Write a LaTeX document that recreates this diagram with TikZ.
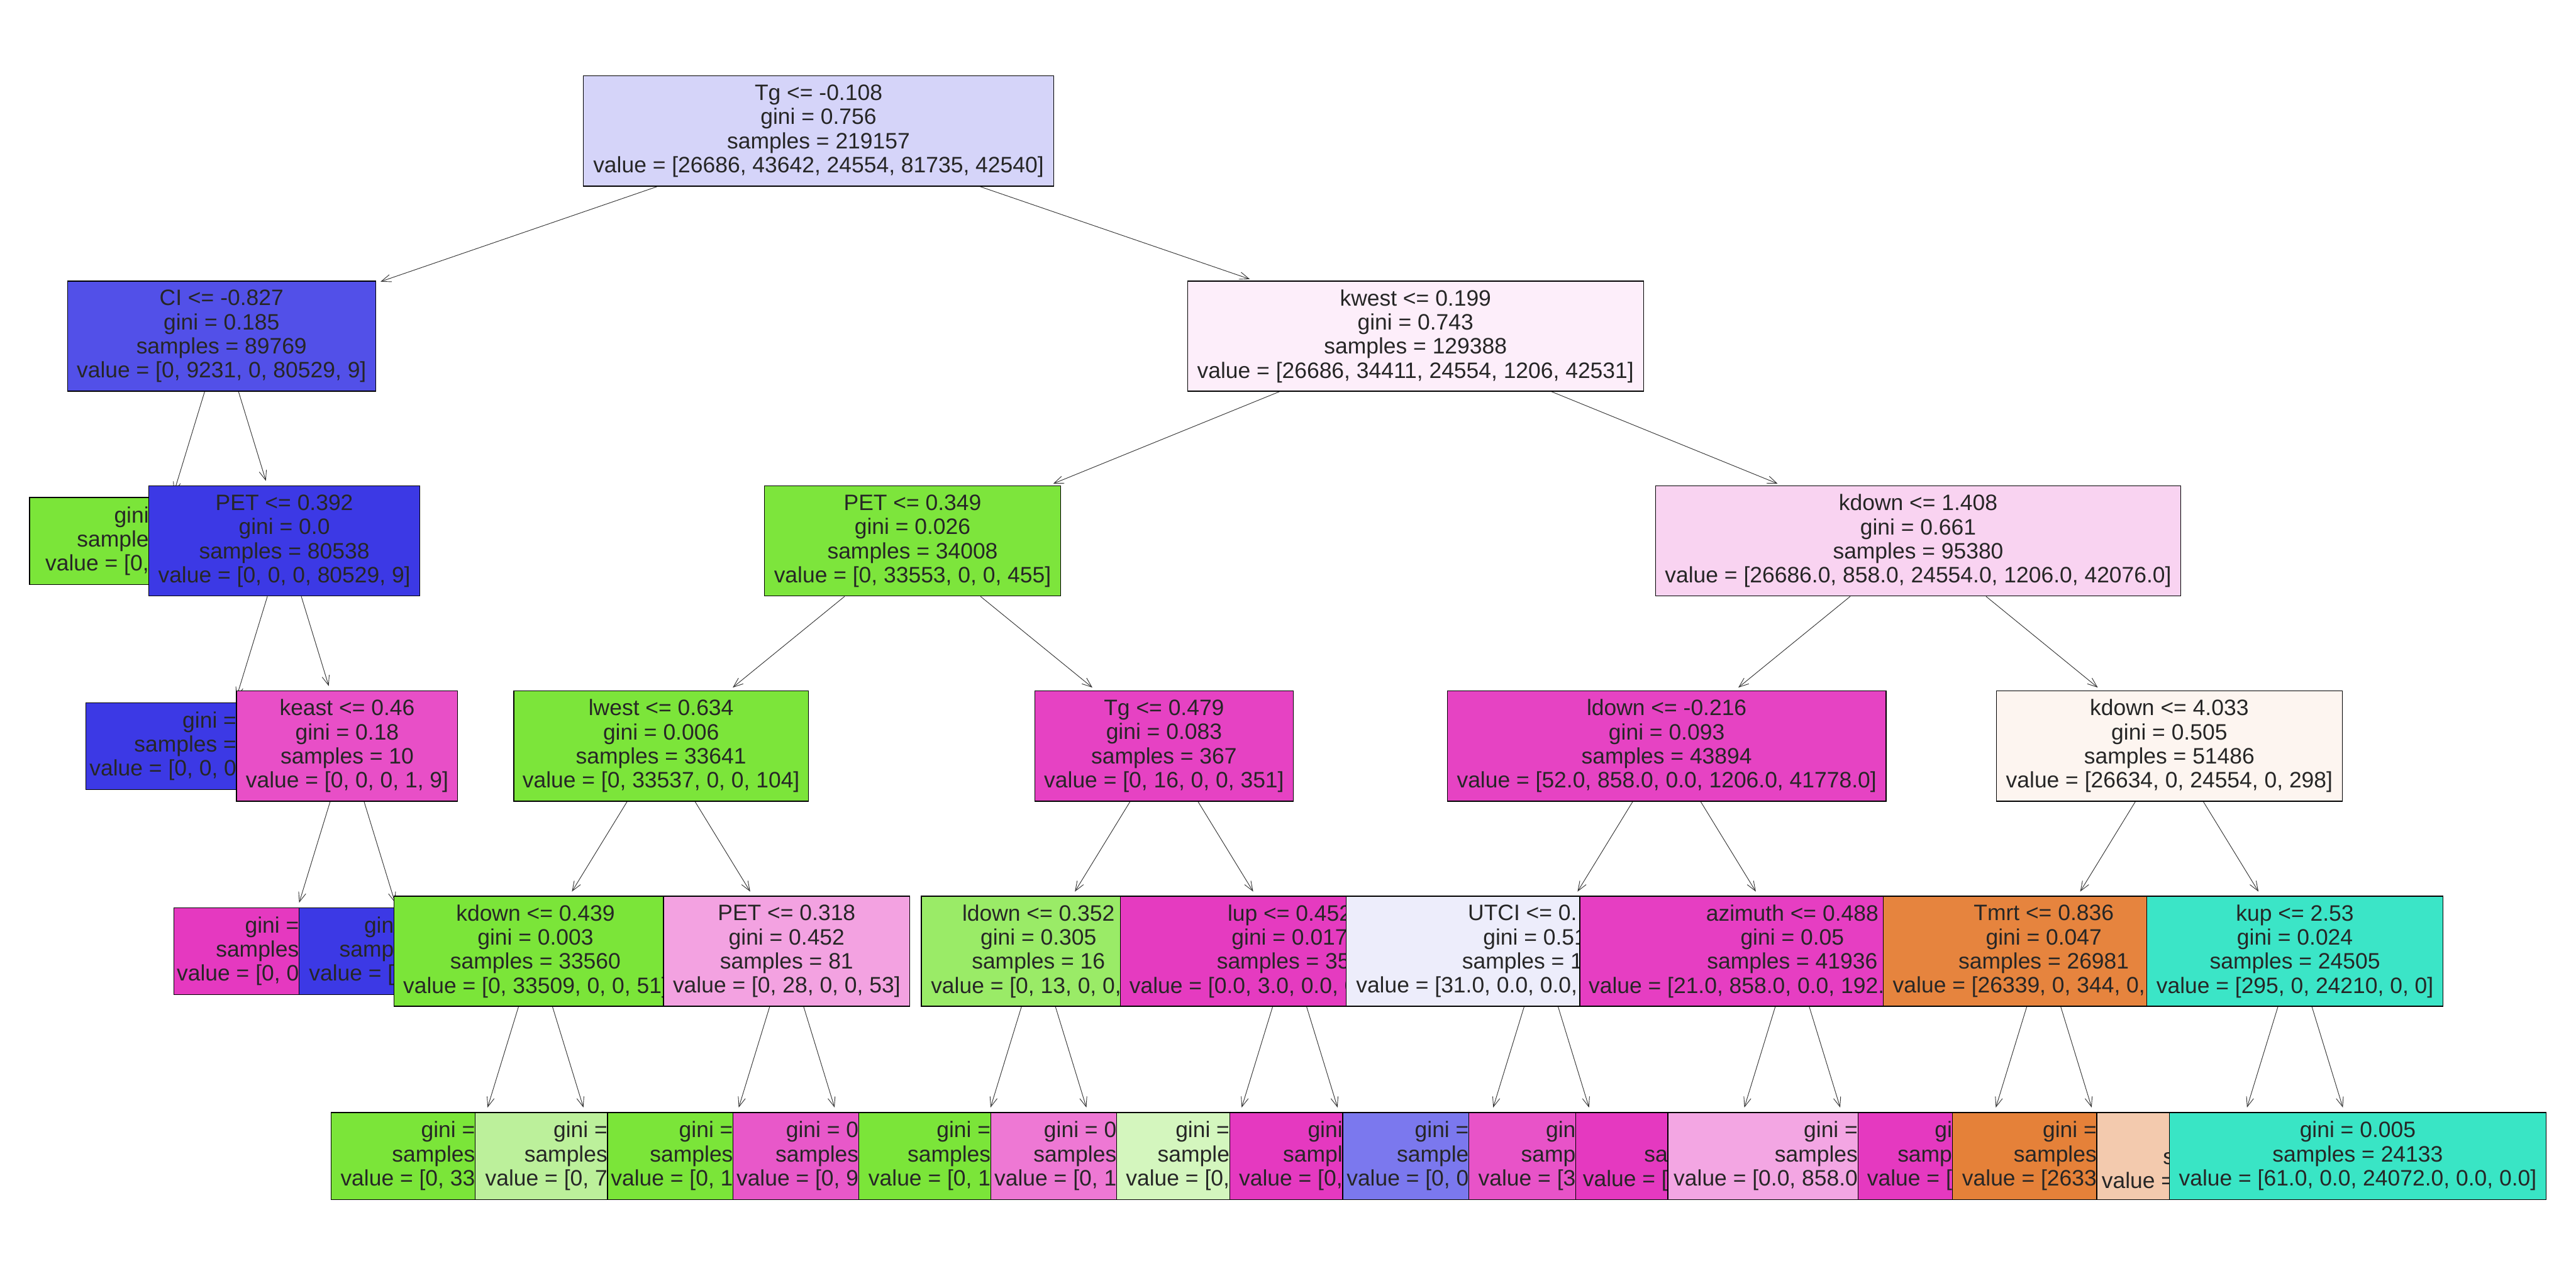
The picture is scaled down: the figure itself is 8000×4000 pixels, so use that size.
\documentclass[tikz,border=0pt]{standalone}
\usepackage{fontspec}
\setmainfont{Liberation Sans}
\usepackage{xcolor}
\usepackage{tikz}
\usetikzlibrary{arrows.meta}
% class fills
\definecolor{dtroot}{RGB}{213,212,249}
\definecolor{dtci}{RGB}{82,80,232}
\definecolor{dtkwest}{RGB}{253,238,250}
\definecolor{dtgreen}{RGB}{123,229,57}
\definecolor{dtblue}{RGB}{60,57,229}
\definecolor{dtmag}{RGB}{229,57,192}
\definecolor{dtorange}{RGB}{229,129,57}
\definecolor{dtteal}{RGB}{57,229,197}
\definecolor{dtpetb}{RGB}{125,229,60}
\definecolor{dtkdowna}{RGB}{249,211,241}
\definecolor{dtkeast}{RGB}{232,79,199}
\definecolor{dtlwest}{RGB}{124,229,58}
\definecolor{dttgb}{RGB}{230,66,195}
\definecolor{dtldowna}{RGB}{230,67,195}
\definecolor{dtkdownb}{RGB}{253,245,240}
\definecolor{dtpetc}{RGB}{243,162,225}
\definecolor{dtldownb}{RGB}{154,235,103}
\definecolor{dtlup}{RGB}{229,59,192}
\definecolor{dtutci}{RGB}{237,237,251}
\definecolor{dtazi}{RGB}{230,62,194}
\definecolor{dttmrt}{RGB}{230,132,62}
\definecolor{dtkup}{RGB}{59,229,199}
\definecolor{dtlgreen}{RGB}{188,240,155}
\definecolor{dtpinka}{RGB}{232,88,201}
\definecolor{dtpinkb}{RGB}{238,120,212}
\definecolor{dtpale}{RGB}{212,246,190}
\definecolor{dtviolet}{RGB}{123,120,238}
\definecolor{dtpinkc}{RGB}{232,83,200}
\definecolor{dtpinkd}{RGB}{243,166,227}
\definecolor{dtpeach}{RGB}{243,202,174}
\pgfdeclarelayer{bg}
\pgfdeclarelayer{d5}
\pgfdeclarelayer{d4}
\pgfdeclarelayer{d3}
\pgfdeclarelayer{d2}
\pgfdeclarelayer{d1}
\pgfsetlayers{bg,d5,d4,d3,d2,d1,main}
\tikzset{
  dtbox/.style={
    draw=black, line width=0.25mm, text=black!85, align=center,
    inner sep=1mm, font=\fontsize{19.7}{21.3}\selectfont
  },
  splitbox/.style={dtbox, minimum height=34.2mm},
  leafbox/.style={dtbox, minimum height=27mm},
  cuttext/.style={
    anchor=east, align=right, inner sep=0pt, text=black!85,
    font=\fontsize{19.7}{21.3}\selectfont
  },
  arr/.style={-{Straight Barb[length=3mm,width=2.3mm]}, draw=black!80,
    line width=0.18mm, shorten >=1.5mm}
}

\begin{document}
\begin{tikzpicture}[x=0.1mm, y=-0.1mm]
  \useasboundingbox (0,0) rectangle (8000,4000);
  \begin{pgfonlayer}{bg}
    \fill[white] (0,0) rectangle (8000,4000);
  \end{pgfonlayer}
  % depth 0
  \node[splitbox, fill=dtroot, minimum width=146.1mm] (root) at (2542,407)
    {Tg <= -0.108\\gini = 0.756\\samples = 219157\\value = [26686, 43642, 24554, 81735, 42540]};
  % depth 1
  \begin{pgfonlayer}{d1}
  \node[splitbox, fill=dtci, minimum width=95.7mm] (ci) at (688,1044)
    {CI <= -0.827\\gini = 0.185\\samples = 89769\\value = [0, 9231, 0, 80529, 9]};
  \draw[arr] (root) -- (ci);
  \node[splitbox, fill=dtkwest, minimum width=141.6mm] (kwest) at (4396,1044)
    {kwest <= 0.199\\gini = 0.743\\samples = 129388\\value = [26686, 34411, 24554, 1206, 42531]};
  \draw[arr] (root) -- (kwest);
  \end{pgfonlayer}
  % depth 2
  \begin{pgfonlayer}{d2}
  \node[leafbox, fill=dtgreen, minimum width=80.4mm] (gl2) at (494,1680) {};
  \node[cuttext] (gl2t) at (463,1680) {gini\\sample\\value = [0,};
  \draw[arr] (ci) -- (gl2);
  \node[splitbox, fill=dtblue, minimum width=84.1mm] (pet392) at (883,1680)
    {PET <= 0.392\\gini = 0.0\\samples = 80538\\value = [0, 0, 0, 80529, 9]};
  \draw[arr] (ci) -- (pet392);
  \node[splitbox, fill=dtpetb, minimum width=91.9mm] (pet349) at (2834,1680)
    {PET <= 0.349\\gini = 0.026\\samples = 34008\\value = [0, 33553, 0, 0, 455]};
  \draw[arr] (kwest) -- (pet349);
  \node[splitbox, fill=dtkdowna, minimum width=163.2mm] (kd1408) at (5957,1680)
    {kdown <= 1.408\\gini = 0.661\\samples = 95380\\value = [26686.0, 858.0, 24554.0, 1206.0, 42076.0]};
  \draw[arr] (kwest) -- (kd1408);
  \end{pgfonlayer}
  % depth 3
  \begin{pgfonlayer}{d3}
  \node[leafbox, fill=dtblue, minimum width=84.3mm] (bl3) at (688,2317) {};
  \node[cuttext] (bl3t) at (735,2317) {gini =\\samples =\\value = [0, 0, 0};
  \draw[arr] (pet392) -- (bl3);
  \node[splitbox, fill=dtkeast, minimum width=68.7mm] (keast) at (1078,2317)
    {keast <= 0.46\\gini = 0.18\\samples = 10\\value = [0, 0, 0, 1, 9]};
  \draw[arr] (pet392) -- (keast);
  \node[splitbox, fill=dtlwest, minimum width=91.5mm] (lwest) at (2053,2317)
    {lwest <= 0.634\\gini = 0.006\\samples = 33641\\value = [0, 33537, 0, 0, 104]};
  \draw[arr] (pet349) -- (lwest);
  \node[splitbox, fill=dttgb, minimum width=80.3mm] (tg479) at (3615,2317)
    {Tg <= 0.479\\gini = 0.083\\samples = 367\\value = [0, 16, 0, 0, 351]};
  \draw[arr] (pet349) -- (tg479);
  \node[splitbox, fill=dtldowna, minimum width=136.3mm] (ld216) at (5176,2317)
    {ldown <= -0.216\\gini = 0.093\\samples = 43894\\value = [52.0, 858.0, 0.0, 1206.0, 41778.0]};
  \draw[arr] (kd1408) -- (ld216);
  \node[splitbox, fill=dtkdownb, minimum width=107.4mm] (kd4033) at (6737,2317)
    {kdown <= 4.033\\gini = 0.505\\samples = 51486\\value = [26634, 0, 24554, 0, 298]};
  \draw[arr] (kd1408) -- (kd4033);
  \end{pgfonlayer}
  % depth 4
  \begin{pgfonlayer}{d4}
  \node[leafbox, fill=dtmag, minimum width=68.7mm] (pl4) at (883,2954) {};
  \node[cuttext] (pl4t) at (929,2954) {gini =\\samples\\value = [0, 0};
  \draw[arr] (keast) -- (pl4);
  \node[leafbox, fill=dtblue, minimum width=68.9mm] (bl4) at (1273,2954) {};
  \node[cuttext] (bl4t) at (1224,2954) {gin\\samp\\value = [};
  \draw[arr] (keast) -- (bl4);
  \node[splitbox, fill=dtgreen, minimum width=87.8mm] (kd439) at (1663,2954)
    {kdown <= 0.439\\gini = 0.003\\samples = 33560\\value = [0, 33509, 0, 0, 51]};
  \draw[arr] (lwest) -- (kd439);
  \node[splitbox, fill=dtpetc, minimum width=76.5mm] (pet318) at (2443,2954)
    {PET <= 0.318\\gini = 0.452\\samples = 81\\value = [0, 28, 0, 0, 53]};
  \draw[arr] (lwest) -- (pet318);
  \node[splitbox, fill=dtldownb, minimum width=72.7mm] (ld352) at (3225,2954)
    {ldown <= 0.352\\gini = 0.305\\samples = 16\\value = [0, 13, 0, 0,\phantom{ 3]}};
  \draw[arr] (tg479) -- (ld352);
  \node[splitbox, fill=dtlup, minimum width=105.1mm] (lup) at (4005,2954)
    {lup <= 0.452\\gini = 0.017\\samples = 35\phantom{1}\\value = [0.0, 3.0, 0.0, 0\phantom{.0, 348.0]}};
  \draw[arr] (tg479) -- (lup);
  \node[splitbox, fill=dtutci, minimum width=121mm] (utci) at (4786,2954)
    {UTCI <= 0.\phantom{000}\\gini = 0.51\phantom{0}\\samples = 1\phantom{958}\\value = [31.0, 0.0, 0.0,\phantom{ 1014.0, 913.0]}};
  \draw[arr] (ld216) -- (utci);
  \node[splitbox, fill=dtazi, minimum width=132mm] (azi) at (5566,2954)
    {azimuth <= 0.488\\gini = 0.05\\samples = 41936\\value = [21.0, 858.0, 0.0, 192.\phantom{0, 40865.0]}};
  \draw[arr] (ld216) -- (azi);
  \node[splitbox, fill=dttmrt, minimum width=99.7mm] (tmrt) at (6347,2954)
    {Tmrt <= 0.836\\gini = 0.047\\samples = 26981\\value = [26339, 0, 344, 0,\phantom{ 298]}};
  \draw[arr] (kd4033) -- (tmrt);
  \node[splitbox, fill=dtkup, minimum width=91.9mm] (kup) at (7127,2954)
    {kup <= 2.53\\gini = 0.024\\samples = 24505\\value = [295, 0, 24210, 0, 0]};
  \draw[arr] (kd4033) -- (kup);
  \end{pgfonlayer}
  % depth 5
  \begin{pgfonlayer}{d5}
  \node[leafbox, fill=dtgreen, minimum width=87.8mm] (l1) at (1468,3590) {};
  \node[cuttext] (l1t) at (1476,3590) {gini =\\samples\\value = [0, 33};
  \draw[arr] (kd439) -- (l1);
  \node[leafbox, fill=dtlgreen, minimum width=76.4mm] (l2) at (1858,3590) {};
  \node[cuttext] (l2t) at (1887,3590) {gini =\\samples\\value = [0, 7};
  \draw[arr] (kd439) -- (l2);
  \node[leafbox, fill=dtgreen, minimum width=72.3mm] (l3) at (2248,3590) {};
  \node[cuttext] (l3t) at (2277,3590) {gini =\\samples\\value = [0, 1};
  \draw[arr] (pet318) -- (l3);
  \node[leafbox, fill=dtpinka, minimum width=72.3mm] (l4) at (2638,3590) {};
  \node[cuttext] (l4t) at (2667,3590) {gini = 0\\samples\\value = [0, 9};
  \draw[arr] (pet318) -- (l4);
  \node[leafbox, fill=dtgreen, minimum width=72.6mm] (l5) at (3030,3590) {};
  \node[cuttext] (l5t) at (3077,3590) {gini =\\samples\\value = [0, 1};
  \draw[arr] (ld352) -- (l5);
  \node[leafbox, fill=dtpinkb, minimum width=68.6mm] (l6) at (3420,3590) {};
  \node[cuttext] (l6t) at (3468,3590) {gini = 0\\samples\\value = [0, 1};
  \draw[arr] (ld352) -- (l6);
  \node[leafbox, fill=dtpale, minimum width=68.5mm] (l7) at (3810,3590) {};
  \node[cuttext] (l7t) at (3819,3590) {gini =\\sample\\value = [0,};
  \draw[arr] (lup) -- (l7);
  \node[leafbox, fill=dtmag, minimum width=76.2mm] (l8) at (4200,3590) {};
  \node[cuttext] (l8t) at (4170,3590) {gini\\sampl\\value = [0,};
  \draw[arr] (lup) -- (l8);
  \node[leafbox, fill=dtviolet, minimum width=84.2mm] (l9) at (4591,3590) {};
  \node[cuttext] (l9t) at (4562,3590) {gini =\\sample\\value = [0, 0};
  \draw[arr] (utci) -- (l9);
  \node[leafbox, fill=dtpinkc, minimum width=83.9mm] (l10) at (4981,3590) {};
  \node[cuttext] (l10t) at (4894,3590) {gin\\samp\\value = [3};
  \draw[arr] (utci) -- (l10);
  \node[leafbox, fill=dtmag, minimum width=95.5mm] (l11) at (5371,3590) {};
  \node[cuttext] (l11t) at (5180,3590) {\strut\\sa\\value = [};
  \draw[arr] (azi) -- (l11);
  \node[leafbox, fill=dtpinkd, minimum width=116.3mm] (l12) at (5761,3590) {};
  \node[cuttext] (l12t) at (5770,3590) {gini =\\samples\\value = [0.0, 858.0};
  \draw[arr] (azi) -- (l12);
  \node[leafbox, fill=dtmag, minimum width=76.4mm] (l13) at (6152,3590) {};
  \node[cuttext] (l13t) at (6063,3590) {gi\\samp\\value = [};
  \draw[arr] (tmrt) -- (l13);
  \node[leafbox, fill=dtorange, minimum width=95.8mm] (l14) at (6542,3590) {};
  \node[cuttext] (l14t) at (6512,3590) {gini =\\samples\\value = [2633};
  \draw[arr] (tmrt) -- (l14);
  \node[leafbox, fill=dtpeach, minimum width=84.1mm] (l15) at (6932,3590) {};
  \node[cuttext] (l15t) at (6753,3590) {\strut\\s\\value =};
  \draw[arr] (kup) -- (l15);
  \node[leafbox, fill=dtteal, minimum width=116.9mm] (l16) at (7322,3590)
    {gini = 0.005\\samples = 24133\\value = [61.0, 0.0, 24072.0, 0.0, 0.0]};
  \draw[arr] (kup) -- (l16);
  \end{pgfonlayer}
\end{tikzpicture}
\end{document}
